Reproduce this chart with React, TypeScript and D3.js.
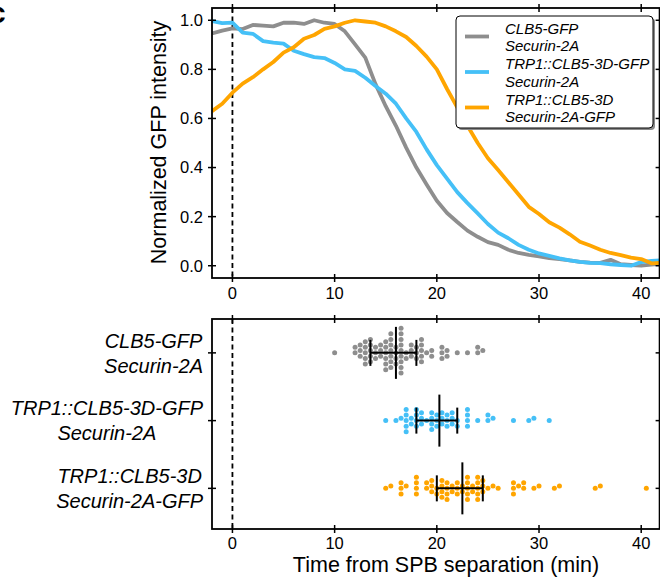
import React, { useEffect, useRef } from 'react';
import * as d3 from 'd3';

const W = 660;
const H = 582;

// Time grid (min) for the intensity curves
const TIMES = [-2, -1, 0, 1, 2, 3, 4, 5, 6, 7, 8, 9, 10, 11, 12, 13, 14, 15, 16, 17, 18, 19, 20,
  21, 22, 23, 24, 25, 26, 27, 28, 29, 30, 31, 32, 33, 34, 35, 36, 37, 38, 39, 40, 41, 42];

const GRAY_CURVE = [0.946, 0.958, 0.967, 0.964, 0.981, 0.978, 0.975, 0.99, 0.99, 0.985, 1.0, 0.99, 0.985,
  0.955, 0.902, 0.848, 0.74, 0.65, 0.57, 0.481, 0.4, 0.331, 0.265, 0.215, 0.178, 0.143, 0.118, 0.096,
  0.085, 0.065, 0.052, 0.044, 0.038, 0.031, 0.027, 0.022, 0.016, 0.013, 0.012, 0.024, 0.006, 0.003,
  0.0, 0.005, 0.008];

const BLUE_CURVE = [0.997, 0.988, 0.99, 0.95, 0.945, 0.915, 0.909, 0.905, 0.876, 0.862, 0.85, 0.846,
  0.826, 0.8, 0.794, 0.766, 0.732, 0.701, 0.66, 0.6, 0.545, 0.474, 0.41, 0.355, 0.3, 0.255, 0.213,
  0.17, 0.135, 0.112, 0.085, 0.065, 0.05, 0.04, 0.03, 0.022, 0.016, 0.012, 0.011, 0.006, 0.003, 0.0,
  0.015, 0.02, 0.022];

const ORANGE_CURVE = [0.63, 0.66, 0.705, 0.742, 0.768, 0.8, 0.83, 0.868, 0.89, 0.925, 0.94, 0.965,
  0.975, 0.99, 1.0, 0.995, 0.99, 0.975, 0.955, 0.932, 0.895, 0.852, 0.8, 0.72, 0.645, 0.57, 0.5,
  0.438, 0.39, 0.34, 0.29, 0.24, 0.211, 0.177, 0.155, 0.128, 0.098, 0.082, 0.065, 0.052, 0.043,
  0.033, 0.027, 0.01, 0.012];

// Per-cell timing (min) of each strain
const GRAY_DOTS = [10, 12, 12, 12.5, 12.5, 12.5, 13, 13, 13, 13, 13, 13.5, 13.5, 13.5, 13.5, 13.5,
  14, 14, 14, 14.5, 14.5, 14.5, 15, 15, 15, 15, 15, 15, 15.5, 15.5, 15.5, 15.5, 15.5, 15.5, 15.5,
  16, 16, 16, 16, 16.5, 16.5, 16.5, 16.5, 16.5, 16.5, 16.5, 16.5, 16.5, 17, 17, 17.5, 17.5, 17.5,
  18, 18, 18, 18.5, 18.5, 18.5, 18.5, 18.5, 19, 19.5, 19.5, 20.5, 20.5, 20.5, 21, 21, 22, 23, 24, 24, 24.5];

const BLUE_DOTS = [15, 16, 16.5, 17, 17, 17, 17, 17, 17.5, 17.5, 18, 18, 18, 18, 18.5, 18.5, 18.5, 19,
  19.5, 19.5, 19.5, 19.5, 20, 20, 20, 20.5, 20.5, 20.5, 21, 21, 21, 21.5, 21.5, 21.5, 22, 22,
  23, 23, 23, 23, 24, 25, 25, 25.5, 27.5, 29, 29.5, 31];

const ORANGE_DOTS = [15, 15.5, 16.5, 16.5, 16.5, 17, 18, 18, 18, 18, 19, 19, 19.5, 19.5, 19.5, 20, 20,
  20.5, 20.5, 20.5, 20.5, 21, 21, 21, 21, 21.5, 21.5, 22, 22, 22, 22.5, 22.5, 23, 23, 23, 23, 23,
  23.5, 23.5, 24, 24, 24, 24, 24, 24.5, 24.5, 24.5, 25, 25.5, 26, 27.5, 27.5, 27.5, 28, 28.5, 28.5,
  29.5, 30, 31.5, 32, 35.5, 36, 40.5];

const MEDIANS = [16, 20.25, 22.5];
const Q1 = [13.5, 18, 20];
const Q3 = [18, 22, 24.5];

const COLORS = ['#8e8e8e', '#45c0f7', '#ffa500'];
const LEGEND_LABELS = [
  ['CLB5-GFP', 'Securin-2A'],
  ['TRP1::CLB5-3D-GFP', 'Securin-2A'],
  ['TRP1::CLB5-3D', 'Securin-2A-GFP'],
];
const CATEGORY_LABELS = LEGEND_LABELS;
const X_TICKS = [0, 10, 20, 30, 40];
const Y_TICKS = [0, 0.2, 0.4, 0.6, 0.8, 1.0];

const FONT = '"Liberation Sans", Arial, Helvetica, sans-serif';

function swarm(vals: number[], px: (v: number) => number, d: number) {
  const sorted = [...vals].sort((a, b) => a - b);
  const placed: { x: number; y: number }[] = [];
  for (const v of sorted) {
    const x = px(v);
    const nb = placed.filter((p) => Math.abs(p.x - x) < d);
    const cands = [0];
    nb.forEach((n) => {
      const dy = Math.sqrt(Math.max(0, d * d - (x - n.x) ** 2));
      cands.push(n.y + dy, n.y - dy);
    });
    cands.sort((a, b) => Math.abs(a) - Math.abs(b));
    let chosen = 0;
    for (const c of cands) {
      if (nb.every((n) => (x - n.x) ** 2 + (c - n.y) ** 2 >= d * d - 1e-6)) {
        chosen = c;
        break;
      }
    }
    placed.push({ x, y: chosen });
  }
  return placed;
}

export default function App() {
  const ref = useRef<SVGSVGElement>(null);

  useEffect(() => {
    const svg = d3.select(ref.current);
    svg.selectAll('*').remove();

    const x = d3.scaleLinear().domain([-2, 41.8]).range([212, 659.6]);
    const yTop = d3.scaleLinear().domain([-0.05, 1.05]).range([278, 8]);
    const yBot = d3.scaleLinear().domain([-0.5, 2.6]).range([319, 529]);

    const L = x.range()[0];
    const R = x.range()[1];
    const topT = 8, topB = 278, botT = 319, botB = 529;

    // panel label
    svg.append('text').attr('x', -11).attr('y', 23).attr('font-family', FONT)
      .attr('font-weight', 'bold').attr('font-size', 30).text('c');

    // clip for top panel
    svg.append('defs').append('clipPath').attr('id', 'clipTop')
      .append('rect').attr('x', L).attr('y', topT).attr('width', R - L).attr('height', topB - topT);

    // ---- Top panel ----
    const dash = (y0: number, y1: number) =>
      svg.append('line').attr('x1', x(0)).attr('x2', x(0)).attr('y1', y0).attr('y2', y1)
        .attr('stroke', '#000').attr('stroke-width', 1.8).attr('stroke-dasharray', '5,3.5');
    dash(topT, topB);

    const curves = [GRAY_CURVE, BLUE_CURVE, ORANGE_CURVE];
    const line = d3.line<number>().x((_, i) => x(TIMES[i])).y((v) => yTop(v));
    const gCurves = svg.append('g').attr('clip-path', 'url(#clipTop)');
    curves.forEach((c, i) => {
      gCurves.append('path').attr('d', line(c) as string).attr('fill', 'none')
        .attr('stroke', COLORS[i]).attr('stroke-width', 3.8).attr('stroke-linejoin', 'round');
    });

    const frame = (y0: number, y1: number) =>
      svg.append('rect').attr('x', L).attr('y', y0).attr('width', R - L).attr('height', y1 - y0)
        .attr('fill', 'none').attr('stroke', '#000').attr('stroke-width', 1.8);

    const tick = (x1: number, y1: number, x2: number, y2: number) =>
      svg.append('line').attr('x1', x1).attr('y1', y1).attr('x2', x2).attr('y2', y2)
        .attr('stroke', '#000').attr('stroke-width', 1.5);

    frame(topT, topB);
    X_TICKS.forEach((t) => {
      tick(x(t), topB - 4, x(t), topB + 4);
      tick(x(t), topT - 4, x(t), topT + 4);
      svg.append('text').attr('x', x(t)).attr('y', 299).attr('text-anchor', 'middle')
        .attr('font-family', FONT).attr('font-size', 16.5).text(String(t));
    });
    Y_TICKS.forEach((v) => {
      tick(L - 4, yTop(v), L + 4, yTop(v));
      tick(R - 4, yTop(v), R + 4, yTop(v));
      svg.append('text').attr('x', 203).attr('y', yTop(v)).attr('dy', '0.36em')
        .attr('text-anchor', 'end').attr('font-family', FONT).attr('font-size', 16.5)
        .text(v.toFixed(1));
    });
    svg.append('text').attr('transform', 'translate(166,142.5) rotate(-90)')
      .attr('text-anchor', 'middle').attr('font-family', FONT).attr('font-size', 21.5)
      .text('Normalized GFP intensity');

    // legend
    const lg = svg.append('g');
    lg.append('rect').attr('x', 458).attr('y', 18).attr('width', 197).attr('height', 112)
      .attr('rx', 4).attr('fill', '#8a8a8a');
    lg.append('rect').attr('x', 456).attr('y', 16).attr('width', 197).attr('height', 112)
      .attr('rx', 4).attr('fill', '#fff').attr('stroke', '#000').attr('stroke-width', 1);
    LEGEND_LABELS.forEach((lines, i) => {
      const cy = 36.5 + i * 35.5;
      lg.append('line').attr('x1', 465).attr('x2', 489).attr('y1', cy).attr('y2', cy)
        .attr('stroke', COLORS[i]).attr('stroke-width', 3.8);
      lines.forEach((ln, j) => {
        lg.append('text').attr('x', 505).attr('y', cy - 3 + j * 17.5)
          .attr('font-family', FONT).attr('font-size', 15).attr('font-style', 'italic').text(ln);
      });
    });

    // ---- Bottom panel ----
    dash(botT, botB);
    const groups = [GRAY_DOTS, BLUE_DOTS, ORANGE_DOTS];
    groups.forEach((vals, i) => {
      const pts = swarm(vals, x, 5.6);
      const cy = yBot(i);
      svg.append('g').selectAll('circle').data(pts).join('circle')
        .attr('cx', (p) => p.x).attr('cy', (p) => cy - p.y).attr('r', 2.5)
        .attr('fill', COLORS[i]);
    });
    groups.forEach((_, i) => {
      const cy = yBot(i);
      const g = svg.append('g').attr('stroke', '#000').attr('stroke-width', 2);
      g.append('line').attr('x1', x(Q1[i])).attr('x2', x(Q3[i])).attr('y1', cy).attr('y2', cy);
      g.append('line').attr('x1', x(Q1[i])).attr('x2', x(Q1[i])).attr('y1', cy - 13).attr('y2', cy + 13);
      g.append('line').attr('x1', x(Q3[i])).attr('x2', x(Q3[i])).attr('y1', cy - 13).attr('y2', cy + 13);
      g.append('line').attr('x1', x(MEDIANS[i])).attr('x2', x(MEDIANS[i])).attr('y1', cy - 26).attr('y2', cy + 26);
    });

    frame(botT, botB);
    X_TICKS.forEach((t) => {
      tick(x(t), botB - 4, x(t), botB + 4);
      tick(x(t), botT - 4, x(t), botT + 4);
      svg.append('text').attr('x', x(t)).attr('y', 549).attr('text-anchor', 'middle')
        .attr('font-family', FONT).attr('font-size', 16.5).text(String(t));
    });
    CATEGORY_LABELS.forEach((lines, i) => {
      const cy = yBot(i);
      tick(L - 4, cy, L + 4, cy);
      tick(R - 4, cy, R + 4, cy);
      const texts = lines.map((ln, j) =>
        svg.append('text').attr('y', cy - 5.3 + j * 25).attr('font-family', FONT)
          .attr('font-size', 20).attr('font-style', 'italic').attr('text-anchor', 'middle').text(ln));
      const w = d3.max(texts, (t) => (t.node() as SVGTextElement).getComputedTextLength()) || 0;
      texts.forEach((t) => t.attr('x', 203 - w / 2));
    });

    svg.append('text').attr('x', 446).attr('y', 572).attr('text-anchor', 'middle')
      .attr('font-family', FONT).attr('font-size', 21.5).text('Time from SPB separation (min)');
  }, []);

  return (
    <svg ref={ref} width={W} height={H}
      style={{ position: 'absolute', left: 0, top: 0, background: '#fff' }} />
  );
}
